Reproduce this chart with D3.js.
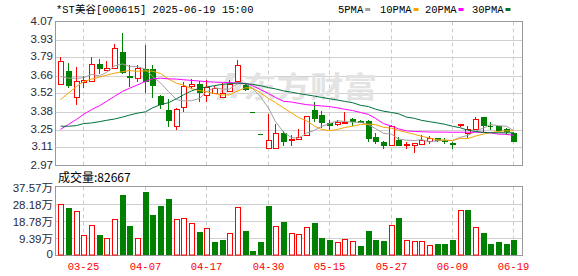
<!DOCTYPE html>
<html>
<head>
<meta charset="utf-8">
<script src="https://cdn.jsdelivr.net/npm/d3@7"></script>
<style>
  body { margin: 0; background: #fff; }
  svg { display: block; }
</style>
</head>
<body>
<div id="chart"></div>
<script>
// --- data ---
const title = '*ST美谷[000615] 2025-06-19 15:00';
const tickIndex = [3, 11, 19, 27, 35, 43, 51, 59];
const tickLabels = ['03-25', '04-07', '04-17', '04-30', '05-15', '05-27', '06-09', '06-19'];
const priceTickLabels = ['2.97', '3.11', '3.25', '3.38', '3.52', '3.66', '3.79', '3.93', '4.07'];
const volTickLabels = ['0', '9.39万', '18.78万', '28.18万', '37.57万'];
const maNames = ['5PMA', '10PMA', '20PMA', '30PMA'];

const opens = [3.592, 3.69, 3.493, 3.61, 3.612, 3.746, 3.698, 3.717, 3.834, 3.65,
  3.642, 3.705, 3.708, 3.503, 3.397, 3.271, 3.418, 3.58, 3.592, 3.506,
  3.524, 3.497, 3.541, 3.617, 3.586, 3.38, 3.21, 3.107, 3.107, 3.221,
  3.165, 3.17, 3.206, 3.397, 3.359, 3.298, 3.285, 3.298, 3.325, 3.31,
  3.31, 3.19, 3.153, 3.127, 3.165, 3.13, 3.127, 3.135, 3.158, 3.18,
  3.165, 3.14, 3.282, 3.22, 3.25, 3.34, 3.275, 3.27, 3.25, 3.216];
const highs = [3.80, 3.75, 3.72, 3.65, 3.796, 3.78, 3.768, 3.897, 3.982, 3.738,
  3.738, 3.89, 3.738, 3.51, 3.476, 3.41, 3.607, 3.63, 3.612, 3.624,
  3.58, 3.60, 3.624, 3.776, 3.60, 3.38, 3.21, 3.36, 3.284, 3.23,
  3.20, 3.25, 3.345, 3.455, 3.384, 3.32, 3.32, 3.38, 3.33, 3.32,
  3.32, 3.22, 3.155, 3.28, 3.19, 3.15, 3.145, 3.20, 3.195, 3.183,
  3.18, 3.15, 3.29, 3.27, 3.34, 3.34, 3.30, 3.27, 3.255, 3.225];
const lows = [3.59, 3.57, 3.44, 3.57, 3.612, 3.675, 3.698, 3.717, 3.68, 3.579,
  3.612, 3.528, 3.49, 3.41, 3.27, 3.25, 3.384, 3.56, 3.46, 3.466,
  3.524, 3.49, 3.541, 3.617, 3.55, 3.38, 3.21, 3.107, 3.10, 3.13,
  3.13, 3.17, 3.20, 3.31, 3.264, 3.25, 3.28, 3.298, 3.28, 3.30,
  3.158, 3.14, 3.107, 3.127, 3.127, 3.107, 3.07, 3.135, 3.14, 3.16,
  3.145, 3.10, 3.27, 3.19, 3.25, 3.23, 3.25, 3.23, 3.21, 3.158];
const closes = [3.768, 3.585, 3.617, 3.62, 3.744, 3.712, 3.718, 3.864, 3.687, 3.645,
  3.713, 3.619, 3.587, 3.44, 3.314, 3.405, 3.574, 3.59, 3.528, 3.566,
  3.562, 3.524, 3.592, 3.738, 3.556, 3.38, 3.21, 3.162, 3.215, 3.158,
  3.17, 3.19, 3.345, 3.335, 3.301, 3.28, 3.30, 3.305, 3.31, 3.305,
  3.183, 3.158, 3.127, 3.27, 3.127, 3.135, 3.145, 3.165, 3.18, 3.165,
  3.16, 3.135, 3.29, 3.246, 3.327, 3.28, 3.27, 3.245, 3.23, 3.158];
const volumes = [280000, 261000, 240000, 113000, 167000, 113000, 98000, 200000, 327000, 163000,
  98000, 348000, 223000, 272000, 310000, 200000, 205000, 178000, 126000, 151000,
  71000, 87000, 124000, 265000, 136000, 27000, 76000, 267000, 160000, 185000,
  124000, 118000, 156000, 178000, 98000, 87000, 74000, 91000, 80000, 54000,
  136000, 87000, 81000, 167000, 205000, 87000, 80000, 80000, 58000, 60000,
  65000, 82000, 250000, 250000, 156000, 120000, 65000, 76000, 60000, 82667];

const ma5 = [3.65, 3.637, 3.637, 3.64, 3.665, 3.655, 3.681, 3.73, 3.746, 3.726,
  3.725, 3.706, 3.65, 3.601, 3.535, 3.473, 3.464, 3.465, 3.482, 3.533,
  3.564, 3.554, 3.554, 3.596, 3.594, 3.558, 3.495, 3.409, 3.305, 3.225,
  3.183, 3.179, 3.216, 3.239, 3.268, 3.29, 3.312, 3.306, 3.301, 3.30,
  3.281, 3.252, 3.216, 3.209, 3.173, 3.163, 3.161, 3.168, 3.150, 3.158,
  3.163, 3.161, 3.186, 3.199, 3.232, 3.256, 3.283, 3.274, 3.270, 3.237];
const ma10 = [3.473, 3.524, 3.574, 3.61, 3.63, 3.645, 3.66, 3.675, 3.687, 3.695,
  3.69, 3.693, 3.69, 3.673, 3.63, 3.599, 3.585, 3.557, 3.542, 3.534,
  3.519, 3.509, 3.51, 3.539, 3.564, 3.561, 3.525, 3.482, 3.451, 3.41,
  3.371, 3.337, 3.312, 3.271, 3.246, 3.236, 3.245, 3.26, 3.27, 3.284,
  3.286, 3.282, 3.262, 3.255, 3.238, 3.223, 3.208, 3.193, 3.18, 3.166,
  3.164, 3.161, 3.178, 3.175, 3.195, 3.21, 3.222, 3.23, 3.235, 3.235];
const ma20 = [3.246, 3.284, 3.322, 3.36, 3.397, 3.427, 3.46, 3.498, 3.536, 3.56,
  3.586, 3.612, 3.632, 3.637, 3.632, 3.63, 3.625, 3.62, 3.615, 3.61,
  3.607, 3.605, 3.603, 3.60, 3.598, 3.58, 3.55, 3.52, 3.49, 3.46,
  3.455, 3.445, 3.435, 3.43, 3.425, 3.42, 3.41, 3.40, 3.39, 3.375,
  3.36, 3.33, 3.29, 3.27, 3.25, 3.235, 3.23, 3.228, 3.226, 3.225,
  3.225, 3.224, 3.224, 3.224, 3.224, 3.224, 3.22, 3.21, 3.208, 3.20];
const ma30 = [3.27, 3.27, 3.275, 3.29, 3.295, 3.305, 3.315, 3.325, 3.34, 3.355,
  3.37, 3.38, 3.41, 3.435, 3.45, 3.48, 3.51, 3.54, 3.56, 3.57,
  3.58, 3.59, 3.595, 3.60, 3.595, 3.59, 3.58, 3.565, 3.555, 3.54,
  3.53, 3.52, 3.51, 3.50, 3.49, 3.48, 3.47, 3.46, 3.45, 3.43,
  3.42, 3.40, 3.385, 3.375, 3.365, 3.34, 3.33, 3.315, 3.305, 3.295,
  3.285, 3.27, 3.258, 3.24, 3.23, 3.222, 3.22, 3.22, 3.22, 3.22];

// --- drawing ---
const width = 578, height = 276;
const RED = '#ff0000', GREEN = '#008000';
const maColors = ['#a0a0a0', '#f5a300', '#ff00ff', '#006f3c'];

const svg = d3.select('#chart').append('svg')
    .attr('width', width)
    .attr('height', height);

const left = 55.5, right = 522.5;
const priceTop = 21.5, priceBottom = 165.5;
const volTop = 186.5, volBottom = 255.5;

const x = d3.scaleBand().domain(d3.range(closes.length)).range([56.5, 517.3]);
const cx = i => Math.round(x(i) + x.bandwidth() / 2);

const pMin = +priceTickLabels[0], pMax = +priceTickLabels[priceTickLabels.length - 1];
const yP = d3.scaleLinear().domain([pMin, pMax]).range([priceBottom, priceTop]);
const vMax = 375700;
const yV = d3.scaleLinear().domain([0, vMax]).range([volBottom, volTop]);

const sansFont = '"Liberation Sans", Arial, "Noto Sans CJK SC", sans-serif';
const monoFont = '"Liberation Mono", "Noto Sans CJK SC", monospace';

// header
svg.append('text')
    .attr('x', 56).attr('y', 13)
    .attr('font-family', monoFont).attr('font-size', 10.5)
    .attr('fill', '#000')
    .text(title);

// legend
const legendX = [338, 380, 425, 472];
maNames.forEach((name, k) => {
    const t = svg.append('text')
        .attr('x', legendX[k]).attr('y', 13)
        .attr('font-family', monoFont).attr('font-size', 10.5)
        .attr('fill', '#000')
        .text(name);
    const w = t.node().getComputedTextLength();
    svg.append('rect')
        .attr('x', legendX[k] + w + 2).attr('y', 8)
        .attr('width', 5).attr('height', 3)
        .attr('fill', maColors[k]);
});

// price grid
const pStep = (pMax - pMin) / (priceTickLabels.length - 1);
priceTickLabels.forEach((lab, k) => {
    const yy = Math.round(yP(pMin + k * pStep)) + 0.5;
    if (k > 0 && k < priceTickLabels.length - 1) {
        svg.append('line')
            .attr('x1', left).attr('x2', right).attr('y1', yy).attr('y2', yy)
            .attr('stroke', '#d0d0d0');
    }
    svg.append('text')
        .attr('x', 53).attr('y', yy - 1)
        .attr('text-anchor', 'end').attr('dominant-baseline', 'middle')
        .attr('font-family', sansFont).attr('font-size', 11.5)
        .attr('fill', '#2a2a3a')
        .text(lab);
});

// volume grid
const vStep = vMax / (volTickLabels.length - 1);
volTickLabels.forEach((lab, k) => {
    const yy = Math.round(yV(k * vStep)) + 0.5;
    if (k > 0 && k < volTickLabels.length - 1) {
        svg.append('line')
            .attr('x1', left).attr('x2', right).attr('y1', yy).attr('y2', yy)
            .attr('stroke', '#d0d0d0');
    }
    svg.append('text')
        .attr('x', 53).attr('y', k === 0 ? yy - 2 : yy + 1)
        .attr('text-anchor', 'end').attr('dominant-baseline', 'middle')
        .attr('font-family', sansFont).attr('font-size', 11.5)
        .attr('fill', '#2a2a3a')
        .text(lab);
});

// vertical dashed grid + date labels
tickIndex.forEach((idx, k) => {
    const xx = cx(idx) + 0.5;
    [[priceTop, priceBottom], [volTop, volBottom]].forEach(([a, b]) => {
        svg.append('line')
            .attr('x1', xx).attr('x2', xx).attr('y1', a).attr('y2', b)
            .attr('stroke', '#cccccc').attr('stroke-dasharray', '4,3');
    });
    svg.append('text')
        .attr('x', xx).attr('y', 270)
        .attr('text-anchor', 'middle')
        .attr('font-family', monoFont).attr('font-size', 10.5)
        .attr('fill', RED)
        .text(tickLabels[k]);
});

// watermark
const wm = svg.append('g');
wm.append('path')
    .attr('d', 'M228,73 L236,73 L224,100 L216,100 Z M238,80 L244,80 L236,98 L230,98 Z')
    .attr('fill', '#e3e3e3');
wm.append('text')
    .attr('x', 243).attr('y', 98)
    .attr('font-family', '"Noto Sans CJK SC", sans-serif').attr('font-weight', 'bold')
    .attr('font-size', 29)
    .attr('textLength', 134).attr('lengthAdjust', 'spacingAndGlyphs')
    .attr('fill', '#e3e3e3')
    .text('东方财富');

// borders
svg.append('rect')
    .attr('x', left).attr('y', priceTop)
    .attr('width', right - left).attr('height', priceBottom - priceTop)
    .attr('fill', 'none').attr('stroke', '#999');
svg.append('rect')
    .attr('x', left).attr('y', volTop)
    .attr('width', right - left).attr('height', volBottom - volTop)
    .attr('fill', 'none').attr('stroke', '#999');

// volume label
svg.append('text')
    .attr('x', 58).attr('y', 182)
    .attr('font-family', '"Noto Sans CJK SC", sans-serif').attr('font-size', 12)
    .attr('fill', '#000')
    .text('成交量:' + volumes[volumes.length - 1]);

// candles
const isUp = i => closes[i] > opens[i] || (closes[i] === opens[i] && i > 0 && closes[i] >= closes[i - 1]);
const candles = svg.append('g').attr('class', 'candles');
d3.range(closes.length).forEach(i => {
    const c = cx(i);
    const col = isUp(i) ? RED : GREEN;
    const yH = Math.round(yP(highs[i])), yL = Math.round(yP(lows[i]));
    const yO = Math.round(yP(opens[i])), yC = Math.round(yP(closes[i]));
    const top = Math.min(yO, yC), bot = Math.max(yO, yC);
    candles.append('line')
        .attr('x1', c + 0.5).attr('x2', c + 0.5)
        .attr('y1', yH).attr('y2', yL + 1)
        .attr('stroke', col);
    if (bot - top < 1) {
        candles.append('line')
            .attr('x1', c - 2).attr('x2', c + 3)
            .attr('y1', top + 0.5).attr('y2', top + 0.5)
            .attr('stroke', col);
    } else if (isUp(i)) {
        candles.append('rect')
            .attr('x', c - 2 + 0.5).attr('y', top + 0.5)
            .attr('width', 5).attr('height', bot - top)
            .attr('fill', '#fff').attr('stroke', col);
    } else {
        candles.append('rect')
            .attr('x', c - 2.5 + 0.5).attr('y', top)
            .attr('width', 6).attr('height', bot - top + 1)
            .attr('fill', col);
    }
});

// moving averages
const line = d3.line().x((d, i) => cx(i) + 0.5).y(d => yP(d));
[ma5, ma10, ma20, ma30].forEach((arr, k) => {
    svg.append('path')
        .datum(arr)
        .attr('d', line)
        .attr('fill', 'none')
        .attr('stroke', maColors[k])
        .attr('stroke-width', 1);
});

// volume bars
const volUp = i => i === 0 ? closes[0] > opens[0] : closes[i] >= closes[i - 1];
const vols = svg.append('g').attr('class', 'volumes');
volumes.forEach((v, i) => {
    const c = cx(i);
    const yy = Math.round(yV(v));
    if (volUp(i)) {
        vols.append('rect')
            .attr('x', c - 2 + 0.5).attr('y', yy + 0.5)
            .attr('width', 5).attr('height', volBottom - 0.5 - yy - 0.5)
            .attr('fill', '#fff').attr('stroke', RED);
    } else {
        vols.append('rect')
            .attr('x', c - 2).attr('y', yy)
            .attr('width', 6).attr('height', volBottom - 0.5 - yy)
            .attr('fill', GREEN);
    }
});
</script>
</body>
</html>
